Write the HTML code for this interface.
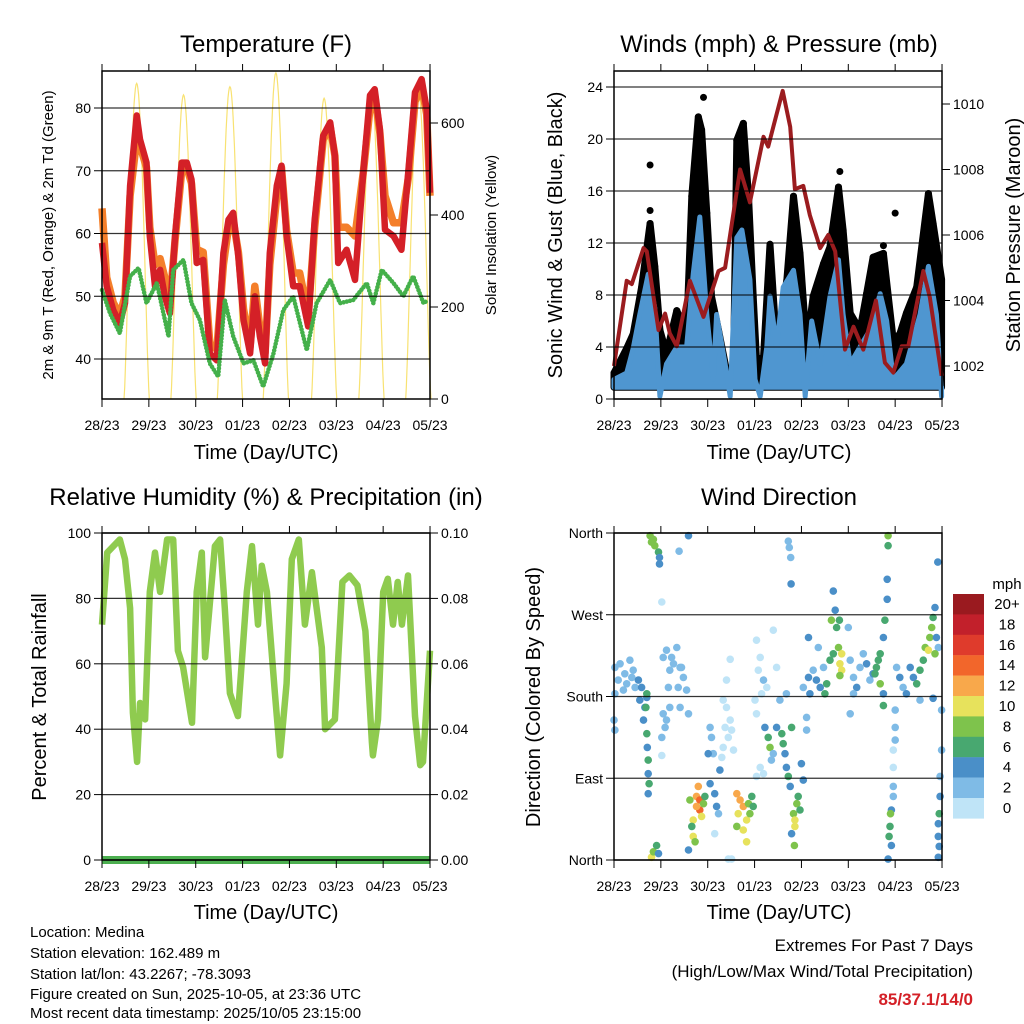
<!DOCTYPE html>
<html><head><meta charset="utf-8"><style>
html,body{margin:0;padding:0;background:#fff;}
svg{display:block;font-family:"Liberation Sans",Arial,sans-serif;}
</style></head><body>
<svg id="chart" xmlns="http://www.w3.org/2000/svg" width="1024" height="1024" viewBox="0 0 1024 1024">
<rect x="0" y="0" width="1024" height="1024" fill="#fff"/>
<g id="marks"></g>
<g id="axes"></g>
<g font-size="24" text-anchor="middle" fill="#000">
<text x="266" y="52">Temperature (F)</text>
<text x="779" y="52">Winds (mph) &amp; Pressure (mb)</text>
<text x="266" y="505">Relative Humidity (%) &amp; Precipitation (in)</text>
<text x="779" y="505">Wind Direction</text>
</g>
<g font-size="20" text-anchor="middle" fill="#000">
<text x="266" y="459">Time (Day/UTC)</text>
<text x="779" y="459">Time (Day/UTC)</text>
<text x="266" y="919">Time (Day/UTC)</text>
<text x="779" y="919">Time (Day/UTC)</text>
<text transform="translate(562,235) rotate(-90)">Sonic Wind &amp; Gust (Blue, Black)</text>
<text transform="translate(1020,235) rotate(-90)">Station Pressure (Maroon)</text>
<text transform="translate(46,697) rotate(-90)">Percent &amp; Total Rainfall</text>
<text transform="translate(540,697) rotate(-90)">Direction (Colored By Speed)</text>
</g>
<g font-size="15" text-anchor="middle" fill="#000">
<text transform="translate(53,235) rotate(-90)">2m &amp; 9m T (Red, Orange) &amp; 2m Td (Green)</text>
<text transform="translate(496,235) rotate(-90)">Solar Insolation (Yellow)</text>
</g>
<g font-size="15" fill="#000">
<text x="30" y="937">Location: Medina</text>
<text x="30" y="958">Station elevation: 162.489 m</text>
<text x="30" y="979">Station lat/lon: 43.2267; -78.3093</text>
<text x="30" y="999">Figure created on Sun, 2025-10-05, at 23:36 UTC</text>
<text x="30" y="1018">Most recent data timestamp: 2025/10/05 23:15:00</text>
</g>
<g font-size="17" text-anchor="end">
<text x="973" y="951" fill="#000">Extremes For Past 7 Days</text>
<text x="973" y="977" fill="#000">(High/Low/Max Wind/Total Precipitation)</text>
<text x="973" y="1005" fill="#d42027" font-weight="bold">85/37.1/14/0</text>
</g>
<text x="1007" y="589" font-size="15" text-anchor="middle">mph</text>
</svg>
<script>
// ---- shared ----
const dayLabels=["28/23","29/23","30/23","01/23","02/23","03/23","04/23","05/23"];
// ---- temperature panel ----
const tDays=[0,0.1,0.24,0.38,0.49,0.6,0.74,0.81,0.95,1.02,1.13,1.24,1.34,1.45,1.56,1.7,1.81,1.91,2.02,2.16,2.3,2.45,2.59,2.7,2.8,2.91,3.02,3.16,3.26,3.37,3.48,3.58,3.73,3.83,3.94,4.08,4.22,4.4,4.54,4.72,4.87,4.97,5.04,5.22,5.4,5.58,5.72,5.82,5.93,6.04,6.22,6.39,6.54,6.68,6.82,6.93,7.0];
const tempRed=[58.5,51.6,47.8,45.7,48.9,67.6,78.8,75,71.3,59.6,51.6,54.2,50,47.3,59.6,71.3,71.3,68.6,55.3,55.8,40.9,39.8,56.9,62.2,63.3,56.3,46.2,40.9,50,43.6,39.3,56.9,67.6,70.8,59.6,51.6,51.6,45.2,62.2,75.6,77.7,72.4,55.3,57.4,52.6,70.2,82,83,76.6,60.6,59.6,57.4,70.2,82.5,84.6,79.8,66.5];
const tempOrange=[64,53,49,47,50,66,75,74,70.5,61,55,56,53,49,59,70,70.5,68,57.5,57,42.5,41.5,55,61,62,57,48,42,51.6,45,41,55,66,70.5,60.5,53.7,53.7,47,61,75,77,72.4,61,61,59.6,70,80,82,76,66,61.7,61.7,69,81,83.5,79,66];
const dpDays=[0,0.17,0.38,0.6,0.78,0.95,1.17,1.42,1.52,1.74,1.91,2.09,2.3,2.48,2.62,2.8,3.02,3.23,3.44,3.66,3.87,4.08,4.37,4.58,4.87,5.08,5.36,5.65,5.79,5.97,6.22,6.43,6.64,6.86,6.96];
const dewpoint=[51,47.3,44.1,53.2,54.5,48.9,52.1,43.6,54.2,55.8,48.9,46.2,39.3,37.2,49.4,43.6,39.3,39.8,35.6,40.9,47.8,50,41.4,48.9,52.6,48.9,49.4,52.1,48.9,54.2,52.1,50,53.2,48.9,49.4];
const solarPeakDay=[0.74,1.74,2.73,3.71,4.74,5.75,6.75];
const solarPeak=[686,661,679,709,654,665,672];
const tempTicks=[40,50,60,70,80];
const solarTicks=[0,200,400,600];
// ---- wind panel ----
const gustDays=[0,0.27,0.41,0.59,0.77,0.87,0.98,1.12,1.34,1.55,1.66,1.8,1.87,1.98,2.08,2.23,2.4,2.55,2.62,2.76,2.87,2.97,3.04,3.19,3.33,3.47,3.69,3.83,3.97,4.11,4.25,4.47,4.61,4.79,4.89,5.04,5.25,5.39,5.53,5.75,5.96,6.1,6.24,6.46,6.71,6.81,6.99];
const gust=[2.0,3.9,5.0,8.6,13.5,10.2,5.3,3.5,6.8,5.0,15.6,21.7,20.7,14.3,7.9,5.3,2.2,2.2,19.9,21.2,15.6,7.9,3.0,3.2,11.9,4.0,9.2,15.6,11.2,4.0,7.9,10.4,11.7,16.3,13.0,6.6,5.3,8.1,10.9,11.2,4.5,5.0,6.6,8.6,15.8,13.5,9.2];
const gustOutlierDays=[0.77,0.77,1.91,2.76,6.0,5.75,4.82];
const gustOutliers=[18,14.5,23.2,21.2,14.3,11.8,17.5];
const windDays=[0,0.27,0.41,0.55,0.73,0.87,0.98,1.12,1.34,1.55,1.69,1.83,1.98,2.12,2.19,2.37,2.48,2.62,2.73,2.9,3.01,3.12,3.26,3.33,3.47,3.61,3.83,3.97,4.08,4.22,4.4,4.61,4.79,4.89,5.04,5.25,5.46,5.68,5.82,5.96,6.24,6.53,6.71,6.88,6.99];
const wind=[1.5,2.0,3.9,6.5,9.6,7.0,0.2,2.7,4.0,4.0,9.6,14.0,6.5,1.5,6.5,2.7,0.2,12.4,13.0,9.2,1.5,0.2,4.0,7.9,4.0,8.6,9.9,6.5,0.2,6.0,2.7,7.9,10.7,6.5,2.7,4.0,5.3,8.1,6.0,1.5,2.7,6.5,10.2,6.5,0.2];
const presDays=[0,0.27,0.38,0.63,0.7,0.95,1.09,1.19,1.34,1.62,1.91,2.23,2.37,2.69,2.9,3.19,3.29,3.4,3.6,3.76,3.86,4.04,4.18,4.4,4.57,4.72,4.93,5.11,5.32,5.59,5.78,5.96,6.14,6.28,6.6,6.74,6.99];
const pressure=[1002.0,1004.6,1004.5,1005.6,1005.5,1003.1,1003.6,1003.0,1002.6,1004.6,1003.5,1004.9,1005.0,1008.0,1007.0,1009.0,1008.7,1009.3,1010.4,1009.3,1007.4,1007.5,1006.6,1005.6,1006.0,1005.5,1002.5,1003.2,1002.5,1004.0,1002.1,1001.8,1002.6,1002.6,1004.9,1004.1,1001.7];
const windTicks=[0,4,8,12,16,20,24];
const presTicks=[1002,1004,1006,1008,1010];
// ---- humidity panel ----
const rhDays=[0,0.11,0.38,0.49,0.6,0.66,0.75,0.81,0.92,1.02,1.13,1.24,1.39,1.52,1.62,1.73,1.92,2.02,2.13,2.2,2.41,2.52,2.62,2.73,2.8,2.9,3.09,3.2,3.33,3.41,3.52,3.69,3.8,3.94,4.05,4.2,4.33,4.48,4.69,4.76,4.97,5.13,5.28,5.45,5.62,5.76,5.78,5.89,6.0,6.1,6.21,6.31,6.4,6.53,6.68,6.79,6.85,7.0];
const rhVals=[72,94,98,92,77,45,30,48,43,82,94,82,98,98,64,59,42,82,94,62,96,98,77,51,48,44,82,96,72,90,82,51,32,54,92,98,72,88,65,40,43,85,87,84,70,36,32,43,82,86,72,85,72,87,44,29,30,64];
const precip=[0,0,0,0,0,0,0,0];
const rhTicks=[0,20,40,60,80,100];
const precipTicks=["0.00","0.02","0.04","0.06","0.08","0.10"];
// ---- wind direction panel ----
const wdDay=[0.02,0.13,0.23,0.34,0.41,0.09,0.27,0.45,0.02,0.2,0.38,0.0,0.02,0.52,0.59,0.55,0.66,0.63,0.7,0.7,0.68,0.7,0.71,0.73,0.73,0.75,0.73,0.77,0.84,0.87,0.8,0.95,0.97,0.97,0.8,0.84,0.91,0.95,
1.12,1.23,1.34,1.41,1.19,1.48,1.16,1.37,1.44,1.27,1.55,1.05,1.09,1.02,1.12,1.19,1.02,1.59,1.41,1.02,1.05,1.39,1.59,
1.62,1.69,1.76,1.8,1.83,1.83,1.87,1.76,1.66,1.69,1.73,1.91,1.94,1.59,
2.05,2.08,2.12,2.01,2.15,2.19,2.23,2.15,2.26,2.05,
2.33,2.4,2.48,2.37,2.44,2.33,2.51,2.55,2.4,2.48,2.3,2.44,2.51,
2.62,2.69,2.76,2.65,2.83,2.76,2.87,2.94,2.9,2.97,2.83,2.62,
3.04,3.12,3.08,3.19,3.01,3.15,3.04,3.4,3.47,3.26,3.12,3.04,3.19,
3.22,3.29,3.33,3.4,3.47,3.58,3.61,3.65,3.68,3.72,3.76,3.79,3.36,3.54,3.68,3.72,3.74,3.77,3.78,
3.83,3.86,3.9,3.93,3.86,3.79,3.85,3.97,4.0,4.04,
4.04,4.15,4.18,4.25,4.32,4.4,4.47,4.54,4.5,4.11,4.11,4.36,4.15,
4.68,4.72,4.64,4.75,4.68,4.61,4.79,4.86,4.82,4.86,4.81,5.0,4.82,
5.04,5.11,5.18,5.25,5.32,5.39,5.46,5.11,5.04,5.53,
5.85,5.85,5.83,5.83,5.78,5.75,5.68,5.6,5.57,5.68,5.75,5.75,5.64,
6.0,6.0,6.0,5.96,5.96,5.96,5.96,5.92,5.9,5.89,5.87,5.92,5.85,
6.03,6.1,6.17,6.24,6.32,6.39,6.46,6.53,6.6,6.64,6.71,6.74,6.78,6.81,6.85,6.88,6.92,6.53,6.81,6.91,6.85,
6.99,6.99,6.96,6.96,6.94,6.92,6.92,6.94,6.92];
const wdDir=[212,216,205,220,209,198,194,190,183,187,201,154,143,198,190,176,168,154,179,183,168,139,124,110,95,84,73,357,353,346,350,339,333,326,3,9,16,7,
231,223,234,212,209,201,190,190,212,216,187,161,146,135,154,168,115,161,168,284,223,340,357,
66,44,70,81,66,55,48,59,37,26,20,62,70,11,
146,135,117,117,73,59,51,29,99,84,
176,168,154,146,135,124,143,121,198,221,113,1,1,
73,66,59,51,44,33,62,70,51,59,20,37,
242,223,209,198,176,183,161,253,212,190,102,92,95,
146,135,124,117,146,139,128,117,102,92,81,146,110,176,183,351,344,333,304,
51,44,62,70,37,29,16,55,106,88,
190,201,183,209,198,190,212,194,183,157,143,234,245,
296,275,264,256,227,220,234,227,216,209,264,256,203,
220,201,190,212,227,216,198,183,161,205,
357,346,309,287,264,245,227,212,205,194,183,170,220,
165,146,132,121,102,81,70,55,51,37,26,16,1,
212,201,190,183,212,201,194,209,220,234,231,245,256,267,278,245,234,176,178,328,227,
165,121,92,70,51,40,26,15,3];
const wdSpd=[2,2,2,2,2,2,2,2,2,2,2,2,2,4,4,4,4,4,4,6,6,6,4,6,4,6,4,8,8,8,8,6,4,4,10,8,6,4,
2,2,2,2,2,2,2,2,2,2,2,2,2,2,2,2,0,2,2,0,2,2,4,
8,10,12,12,14,14,10,12,6,10,8,8,6,4,
2,2,2,4,4,4,2,0,4,4,
0,0,0,0,0,0,0,0,0,0,0,0,0,
12,12,12,10,10,10,8,6,8,6,10,8,
0,0,0,2,0,0,0,0,0,0,0,0,0,
4,6,8,2,4,6,6,4,4,6,4,6,2,2,2,2,2,2,4,
8,10,8,6,10,4,8,6,4,4,
2,4,4,2,4,4,2,6,6,2,2,2,4,
4,4,8,6,6,6,8,10,10,10,6,2,8,
2,2,4,2,2,4,2,2,2,4,
8,6,4,4,6,4,6,6,6,8,4,6,6,
2,2,2,0,0,2,2,4,8,6,6,4,4,
2,4,2,4,4,4,6,6,6,8,10,8,8,6,4,4,2,2,4,4,8,
2,2,2,4,6,4,4,4,4];
const dirTicks=[0,90,180,270,360];
const dirLabels=["North","East","South","West","North"];
const cbLabels=["20+","18","16","14","12","10","8","6","4","2","0"];
const cbColors=["#9a1a1f","#c2202b","#df3b2c","#f2662b","#f8a84b","#e7e25c","#7ec34c","#48a870","#4a8fc8","#7fbbe6","#bfe4f7"];

// ---- helpers ----
const NS="http://www.w3.org/2000/svg";
const marks=document.getElementById('marks');
const axes=document.getElementById('axes');
function mk(tag,attrs,parent){const e=document.createElementNS(NS,tag);for(const k in attrs)e.setAttribute(k,attrs[k]);(parent||marks).appendChild(e);return e;}
const DAYW=46.86;
function xs(x0){return d=>x0+d*DAYW;}
function lin(v0,y0,v1,y1){return v=>y0+(v-v0)*(y1-y0)/(v1-v0);}
function pts(xa,ya,fx,fy){return xa.map((d,i)=>fx(d).toFixed(1)+','+fy(ya[i]).toFixed(1)).join(' ');}

const P=[{x:102,y:71,w:328,h:328},{x:614,y:71,w:328,h:328},{x:102,y:533,w:328,h:327},{x:614,y:533,w:328,h:327}];

// ---- panel 1 ----
{
const fx=xs(102), fy=lin(40,359,80,108), fs=lin(0,399,600,123);
solarPeakDay.forEach((pd,k)=>{
  let s='';
  for(let j=0;j<=40;j++){const d=pd-0.27+j*0.0135;const v=solarPeak[k]*Math.max(0,Math.sin(Math.PI*j/40))**1.3;s+=fx(d).toFixed(1)+','+fs(v).toFixed(1)+' ';}
  const e=mk('polyline',{points:s,fill:'none',stroke:'#f8e272','stroke-width':1.2});
  
  
});
const o=mk('polyline',{points:pts(tDays,tempOrange,fx,fy),fill:'none',stroke:'#f47f2a','stroke-width':7.5,'stroke-linejoin':'round'});


const r=mk('polyline',{points:pts(tDays,tempRed,fx,fy),fill:'none',stroke:'#d42027','stroke-width':6.5,'stroke-linejoin':'round'});


const g=mk('polyline',{points:pts(dpDays,dewpoint,fx,fy),fill:'none',stroke:'#44b04a','stroke-width':4.5,'stroke-dasharray':'0.1 3.2','stroke-linecap':'round','stroke-linejoin':'round'});


}
// ---- panel 2 ----
{
const fx=xs(614), fy=lin(0,399,24,87), fp=lin(1002,366,1010,104);
const base=fy(0.9);
let s=pts(gustDays,gust,fx,fy)+' '+fx(gustDays[gustDays.length-1])+','+base+' '+fx(0)+','+base;
const bg=mk('polygon',{points:s,fill:'#000',stroke:'#000','stroke-width':7,'stroke-linejoin':'round'});


gustOutlierDays.forEach((d,i)=>{
  const c=mk('circle',{cx:fx(d),cy:fy(gustOutliers[i]),r:3.5,fill:'#000'});
  
  
});
gustDays.forEach((d,i)=>{
  const c=mk('circle',{cx:fx(d),cy:fy(gust[i]),r:3.5,fill:'#000'});
  
  
});
let s2=pts(windDays,wind,fx,fy)+' '+fx(windDays[windDays.length-1])+','+base+' '+fx(0)+','+base;
const bw=mk('polygon',{points:s2,fill:'#4f96d0',stroke:'#4f96d0','stroke-width':5,'stroke-linejoin':'round'});


const pl=mk('polyline',{points:pts(presDays,pressure,fx,fp),fill:'none',stroke:'#9b1c1f','stroke-width':4,'stroke-linejoin':'round'});


}
// ---- panel 3 ----
{
const fx=xs(102), fy=lin(0,860,100,533), fr=lin(0,860,0.1,533);
const pr=mk('polyline',{points:precip.map((v,i)=>fx(i).toFixed(1)+','+fr(v).toFixed(1)).join(' '),fill:'none',stroke:'#4caf50','stroke-width':8});


const rl=mk('polyline',{points:pts(rhDays,rhVals,fx,fy),fill:'none',stroke:'#8fcb4f','stroke-width':6.5,'stroke-linejoin':'round'});


}
// ---- panel 4 ----
{
const fx=xs(614), fy=lin(0,860,360,533);
wdDay.forEach((d,i)=>{
  const idx=10-Math.min(10,Math.floor(wdSpd[i]/2));
  const c=mk('circle',{cx:fx(d).toFixed(1),cy:fy(wdDir[i]).toFixed(1),r:3.8,fill:cbColors[idx]});
  
  
});
cbColors.forEach((col,i)=>{
  const rc=mk('rect',{x:953,y:594+i*20.4,width:31,height:20.6,fill:col},axes);
  
  
  const t=mk('text',{x:1007,y:609+i*20.4,'font-size':15,'text-anchor':'middle'},axes);
  t.textContent=cbLabels[i];
  
  
});
}
// ---- axes ----
function gridAndLeft(p,vals,labels,fy,grid){
  vals.forEach((v,i)=>{
    const y=fy(v);
    if(grid){const gl=mk('line',{x1:p.x,x2:p.x+p.w,y1:y,y2:y,stroke:'#000','stroke-width':1.2,'stroke-opacity':0.8},axes);
    
    }
    const tk=mk('line',{x1:p.x-8,x2:p.x,y1:y,y2:y,stroke:'#000','stroke-width':1},axes);
    
    
    const t=mk('text',{x:p.x-11,y:y+5,'font-size':14,'text-anchor':'end'},axes);
    t.textContent=labels[i];
    
    
  });
}
function right(p,vals,labels,fy){
  vals.forEach((v,i)=>{
    const y=fy(v);
    const tk=mk('line',{x1:p.x+p.w,x2:p.x+p.w+8,y1:y,y2:y,stroke:'#000','stroke-width':1},axes);
    
    
    const t=mk('text',{x:p.x+p.w+11,y:y+5,'font-size':14,'text-anchor':'start'},axes);
    t.textContent=labels[i];
    
    
  });
}
P.forEach((p,k)=>{
  const fr=mk('rect',{x:p.x,y:p.y,width:p.w,height:p.h,fill:'none',stroke:'#000','stroke-width':1.5},axes);
  
  
  const fx=xs(p.x);
  dayLabels.forEach((lab,i)=>{
    const x=fx(i);
    const tb=mk('line',{x1:x,x2:x,y1:p.y+p.h,y2:p.y+p.h+8,stroke:'#000','stroke-width':1},axes);
    
    
    const tt=mk('line',{x1:x,x2:x,y1:p.y-7,y2:p.y,stroke:'#000','stroke-width':1},axes);
    
    
    const t=mk('text',{x:x,y:p.y+p.h+31,'font-size':14,'text-anchor':'middle'},axes);
    t.textContent=lab;
    
    
  });
});
gridAndLeft(P[0],tempTicks,tempTicks,lin(40,359,80,108),true);
right(P[0],solarTicks,solarTicks,lin(0,399,600,123));
gridAndLeft(P[1],windTicks,windTicks,lin(0,399,24,87),true);
right(P[1],presTicks,presTicks,lin(1002,366,1010,104));
gridAndLeft(P[2],rhTicks,rhTicks,lin(0,860,100,533),true);
right(P[2],rhTicks,precipTicks,lin(0,860,100,533));
gridAndLeft(P[3],dirTicks,dirLabels,lin(0,860,360,533),true);
</script>
</body></html>
